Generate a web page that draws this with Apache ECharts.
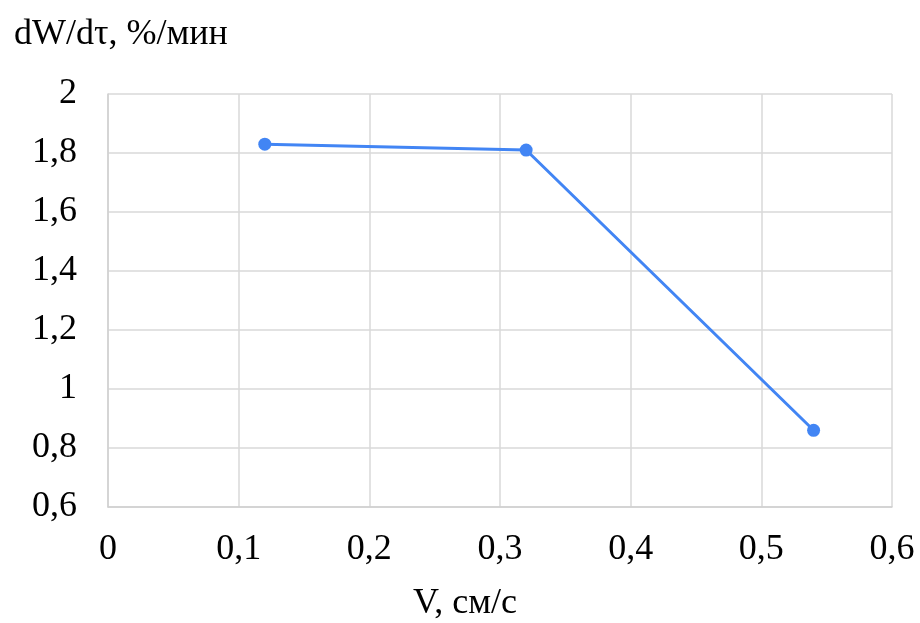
<!DOCTYPE html>
<html>
<head>
<meta charset="utf-8">
<script src="https://cdn.jsdelivr.net/npm/echarts@6/dist/echarts.min.js"></script>
<style>
  html, body { margin: 0; padding: 0; background: #fff; }
  #chart { width: 920px; height: 623px; }
</style>
</head>
<body>
<div id="chart"></div>
<script>
// скорость V, см/с и dW/dτ, %/мин
var speedV = [0.12, 0.32, 0.54];
var rateW = [1.83, 1.81, 0.86];
var yTitle = 'dW/dτ, %/мин';
var xTitle = 'V, см/с';

var font = '"Liberation Serif", "Times New Roman", serif';
var comma = function (v) {
  return String(Math.round(v * 10) / 10).replace('.', ',');
};

var chart = echarts.init(document.getElementById('chart'));
chart.setOption({
  animation: false,
  title: [
    { text: yTitle, left: 9, top: 12, textStyle: { fontFamily: font, fontSize: 36, fontWeight: 'normal', color: '#000' } },
    { text: xTitle, left: 408, top: 581, textStyle: { fontFamily: font, fontSize: 36, fontWeight: 'normal', color: '#000' } }
  ],
  grid: { left: 108, right: 28, top: 94, bottom: 116 },
  xAxis: {
    type: 'value',
    min: 0,
    max: 0.6,
    interval: 0.1,
    axisLine: { show: true, lineStyle: { color: '#d0d0d0', width: 1.5 } },
    axisTick: { show: false },
    splitLine: { show: true, lineStyle: { color: '#d9d9d9', width: 1.5 } },
    axisLabel: { formatter: comma, fontFamily: font, fontSize: 36, color: '#000', margin: 25 }
  },
  yAxis: {
    type: 'value',
    min: 0.6,
    max: 2,
    interval: 0.2,
    axisLine: { show: true, lineStyle: { color: '#d0d0d0', width: 1.5 } },
    axisTick: { show: false },
    splitLine: { show: true, lineStyle: { color: '#d9d9d9', width: 1.5 } },
    axisLabel: { formatter: comma, fontFamily: font, fontSize: 36, color: '#000', margin: 31 }
  },
  series: [{
    type: 'line',
    data: speedV.map(function (v, i) { return [v, rateW[i]]; }),
    symbol: 'circle',
    symbolSize: 13,
    lineStyle: { color: '#4285f4', width: 3 },
    itemStyle: { color: '#4285f4' }
  }]
});
</script>
</body>
</html>
